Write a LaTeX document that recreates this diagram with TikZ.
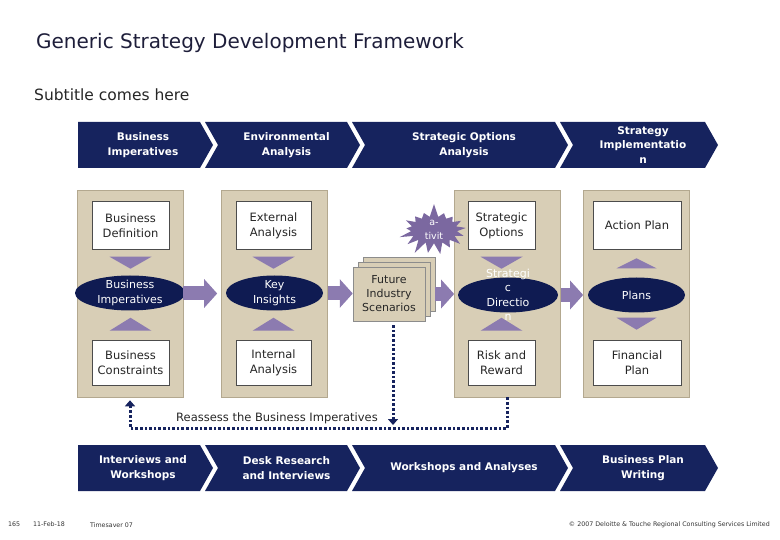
\documentclass[tikz,border=0pt]{standalone}
\usepackage{fontspec}
\setmainfont{DejaVu Sans}
\usepackage{xcolor}
\usepackage{tikz}
\usetikzlibrary{
  arrows.meta,
  shapes.geometric,
  shapes.symbols
}
\definecolor{navy}{HTML}{16235E}
\definecolor{navydark}{HTML}{0F1B52}
\definecolor{tan}{HTML}{D8CEB6}
\definecolor{tanedge}{HTML}{B3A88F}
\definecolor{lilac}{HTML}{8C7BB0}
\definecolor{burst}{HTML}{7B68A0}
\definecolor{titleink}{HTML}{1E1E3A}

\begin{document}
\begin{tikzpicture}[%ピクセル座標で描く
          x=1pt,y=-1pt,
          chevtext/.style={
              text=white,
              align=center,
              font=\fontsize{10.5}{14.5}\selectfont\bfseries
            },pillar/.style={
              fill=tan,
              draw=tanedge,
              line width=.6pt,
              minimum width=106pt,
              minimum height=207pt,
              inner sep=0pt
            },card/.style={
              fill=white,
              draw=black!70,
              line width=.5pt,
              minimum width=77pt,
              minimum height=48pt,
              align=center,
              text=black!85,
              font=\fontsize{11.5}{15}\selectfont
            },hub/.style={
              ellipse,
              fill=navydark,
              minimum height=35pt,
              inner sep=0pt
            },hubtext/.style={
              text=white,
              align=center,
              inner sep=0pt,
              font=\fontsize{11}{14.5}\selectfont
            },page/.style={
              fill=tan,
              draw=black!45,
              line width=.5pt,
              minimum width=72pt,
              minimum height=54pt,
              align=center,
              text=black!85,
              font=\fontsize{11}{14}\selectfont
            },tri/.style={
              fill=lilac
            },fat/.style={
              draw=lilac,
              line width=14pt,
              -{Triangle[length=13pt,width=28pt]}
            },backtrack/.style={
              draw=navy,
              line width=3pt,
              dash pattern=on 2.6pt off 2pt
            },foot/.style={
              inner sep=0pt,
              text=black!80,
              font=\fontsize{6.3}{8}\selectfont
            }
        ]
        \useasboundingbox (0,0) rectangle (780,540);

        % タイトル
        \node[anchor=base west, inner sep=0pt, text=titleink, font=\fontsize{20}{23}\selectfont] (title) at (36,49) {Generic Strategy Development Framework};
        \node[anchor=base west, inner sep=0pt, text=black!85, font=\fontsize{15.5}{18}\selectfont] (subtitle) at (34,101) {Subtitle comes here};

        % 上段のシェブロン
        \foreach \xa/\xb/\nd/\nm/\txt in {78/200/0/h1/{Business\\Imperatives},
            205/347/13/h2/{Environmental\\Analysis},
            352/555/13/h3/{Strategic Options\\Analysis},
            560/705/13/h4/{Strategy\\Implementatio\\n}}{
            \fill[navy] (\xa,122) -- (\xb,122) -- ({\xb+13},145) -- (\xb,168) -- (\xa,168) -- ({\xa+\nd},145) -- cycle;
            \node[chevtext] (\nm) at ({(\xa+\xb+\nd)/2+4},145) {\txt};
          }

        % 下段のシェブロン
        \foreach \xa/\xb/\nd/\nm/\txt in {78/200/0/b1/{Interviews and\\Workshops},
            205/347/13/b2/{Desk Research\\and Interviews},
            352/555/13/b3/{Workshops and Analyses},
            560/705/13/b4/{Business Plan\\Writing}}{
            \fill[navy] (\xa,445) -- (\xb,445) -- ({\xb+13},468) -- (\xb,491) -- (\xa,491) -- ({\xa+\nd},468) -- cycle;
            \node[chevtext] (\nm) at ({(\xa+\xb+\nd)/2+4},468) {\txt};
          }

        % 柱
        \node[pillar] (col1) at (130,293.5) {};
        \node[pillar] (col2) at (274.5,293.5) {};
        \node[pillar] (col3) at (507.5,293.5) {};
        \node[pillar] (col4) at (636.5,293.5) {};

        % ひらめき
        \node[starburst, fill=burst, text=white, minimum width=74pt, minimum height=50pt,
          starburst point height=14pt, random starburst=7,
          inner sep=0pt, align=center, font=\fontsize{9.5}{13.5}\selectfont] (spark) at (434,230) {a-\\tivit};

        % 白い箱
        \node[card] (bizdef) at (130.5,225.5) {Business\\Definition};
        \node[card, minimum height=45pt] (bizcon) at (130.5,362.5) {Business\\Constraints};
        \node[card, minimum width=75pt] (extan) at (273.5,225.5) {External\\Analysis};
        \node[card, minimum width=75pt, minimum height=45pt] (intan) at (273.5,362.5) {Internal\\Analysis};
        \node[card, minimum width=67pt] (stratopt) at (501.5,225.5) {Strategic\\Options};
        \node[card, minimum width=67pt, minimum height=45pt] (riskrew) at (501.5,362.5) {Risk and\\Reward};
        \node[card, minimum width=88pt] (actplan) at (637,225.5) {Action Plan};
        \node[card, minimum width=88pt, minimum height=45pt] (finplan) at (637,362.5) {Financial\\Plan};

        % 楕円
        \foreach \nm/\x/\y/\w/\txt in {bizimp/130/293/110/{Business\\Imperatives},
            keyins/274.5/293/97/{Key\\Insights},
            stratdir/508/295/100/{Strategi\\c\\Directio\\n},
            plans/636.5/295/97/{Plans}}{
            \node[hub, minimum width=\w pt] (\nm) at (\x,\y) {};
            \node[hubtext] (\nm-t) at (\nm) {\txt};
          }

        % 三角形
        \foreach \b in {bizdef,extan,stratopt}
          \fill[tri] ([xshift=-21pt,yshift=-7pt]\b.south) -- ([xshift=21pt,yshift=-7pt]\b.south) -- ([yshift=-19pt]\b.south) -- cycle;
        \foreach \b in {bizcon,intan,riskrew}
          \fill[tri] ([xshift=-21pt,yshift=9pt]\b.north) -- ([xshift=21pt,yshift=9pt]\b.north) -- ([yshift=22pt]\b.north) -- cycle;
        \fill[tri] ([xshift=-20pt,yshift=9pt]plans.north) -- ([xshift=20pt,yshift=9pt]plans.north) -- ([yshift=19pt]plans.north) -- cycle;
        \fill[tri] ([xshift=-20pt,yshift=-5pt]plans.south) -- ([xshift=20pt,yshift=-5pt]plans.south) -- ([yshift=-17pt]plans.south) -- cycle;

        % 将来シナリオ(紙の束)
        \node[page] (futureb) at (399,284) {};
        \node[page] (futurem) at (394,289) {};
        \node[page] (future) at (389,294) {Future\\Industry\\Scenarios};

        % 太い矢印
        \draw[fat, shorten >=4pt] (col1.east) -- (col2.west);
        \draw[fat] (col2.east) -- (col2.east -| future.west);
        \draw[fat] (future.east -| futureb.east) -- (future.east -| col3.west);
        \draw[fat] (col3.east |- stratdir) -- (col4.west |- stratdir);

        % 点線の戻り経路
        \coordinate (drop) at ([xshift=4pt]future.south);
        \coordinate (turnL) at (130,428);
        \coordinate (turnR) at (col3.south |- turnL);
        \draw[backtrack, -{Triangle[length=6pt,width=10pt]}] ([yshift=-4pt]drop) -- ([yshift=3pt]drop |- turnL);
        \draw[backtrack, -{Triangle[length=6pt,width=10pt]}] (col3.south) -- (turnR) -- (turnL) -- ([yshift=-3pt]col1.south);
        \node[anchor=base, inner sep=0pt, text=black!85, font=\fontsize{11.5}{14}\selectfont] (reassess) at (277,421) {Reassess the Business Imperatives};

        % フッター
        \node[foot, anchor=base west] (pageno) at (8,526) {165};
        \node[foot, anchor=base west] (date) at (33,526) {11-Feb-18};
        \node[foot, anchor=base west] (saver) at (90,527) {Timesaver 07};
        \node[foot, anchor=base east] (rights) at (770,526) {© 2007 Deloitte \& Touche Regional Consulting Services Limited};

      \end{tikzpicture}
\end{document}
